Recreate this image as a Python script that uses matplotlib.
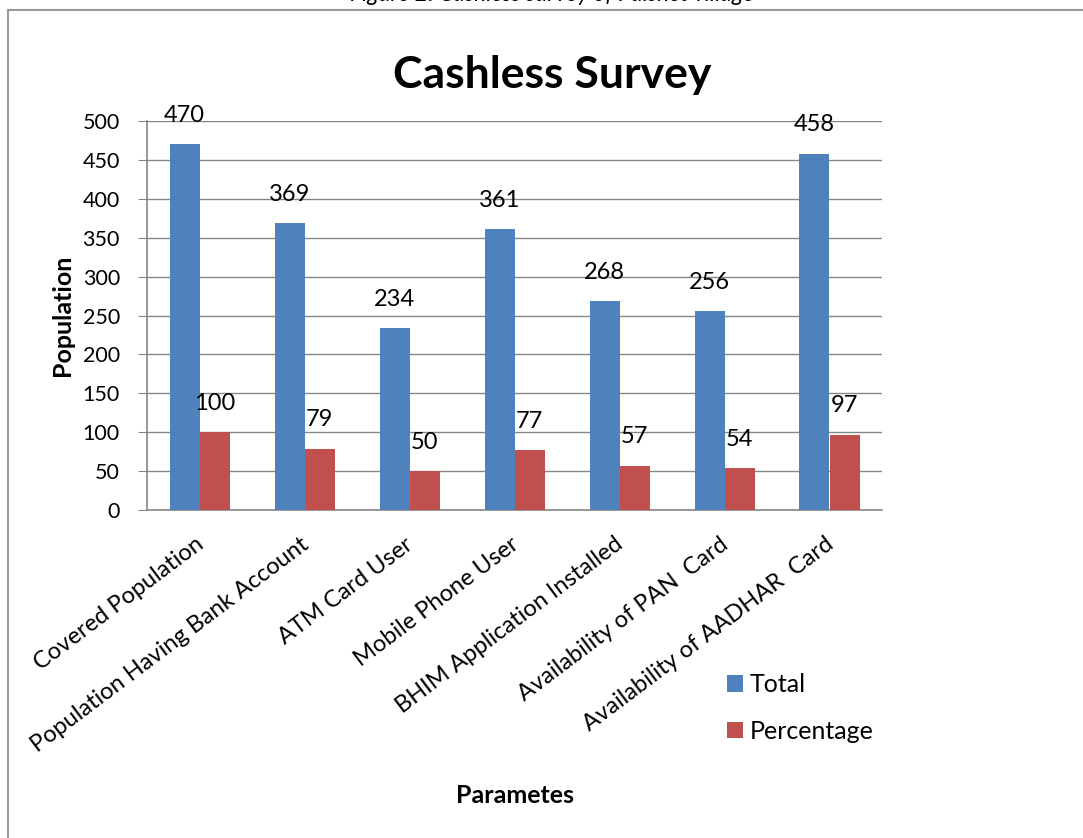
import matplotlib.pyplot as plt
import matplotlib.transforms as mtransforms
import numpy as np
from matplotlib.patches import Rectangle

categories = [
    "Covered Population",
    "Population Having Bank Account",
    "ATM Card User",
    "Mobile Phone User",
    "BHIM Application Installed",
    "Availability of PAN  Card",
    "Availability of AADHAR  Card",
]
total = [470, 369, 234, 361, 268, 256, 458]
percentage = [100, 79, 50, 77, 57, 54, 97]
yticks = [0, 50, 100, 150, 200, 250, 300, 350, 400, 450, 500]

plt.rcParams["font.family"] = ["Lato", "DejaVu Sans"]

W, H = 1083, 838
fig = plt.figure(figsize=(W / 100, H / 100), dpi=100)
ax = fig.add_axes([147 / W, 1 - 510 / H, (882 - 147) / W, (510 - 121) / H])

x = np.arange(len(categories))
w = 1 / 3.5
b1 = ax.bar(x - w / 2, total, w, color="#4F81BD", label="Total", zorder=3)
b2 = ax.bar(x + w / 2, percentage, w, color="#C0504D", label="Percentage", zorder=3)

for bars in (b1, b2):
    for r in bars:
        ax.annotate(f"{int(r.get_height())}",
                    (r.get_x() + r.get_width() / 2, r.get_height()),
                    xytext=(0, 16), textcoords="offset points",
                    ha="center", va="baseline", fontsize=17)

ax.set_xlim(-0.5, len(categories) - 0.5)
ax.set_ylim(0, 500)
ax.set_yticks(yticks)
ax.yaxis.grid(True, color="#868686", linewidth=1, zorder=0)
for s in ("top", "right"):
    ax.spines[s].set_visible(False)
for s in ("left", "bottom"):
    ax.spines[s].set_color("#868686")
    ax.spines[s].set_linewidth(1.2)
ax.tick_params(axis="y", length=6.5, color="#868686", labelsize=15.5, pad=13)
ax.tick_params(axis="x", length=0, pad=17)
ax.set_xticks(x)
ax.set_xticklabels(categories, rotation=37, ha="right", va="top",
                   rotation_mode="anchor", fontsize=17)
shift = mtransforms.ScaledTranslation(-5 / 100, 0, fig.dpi_scale_trans)
for lab in ax.get_xticklabels():
    lab.set_transform(lab.get_transform() + shift)

fig.text(62 / W, 1 - 315 / H, "Population", rotation=90, ha="center",
         va="center", fontsize=18, fontweight="bold")
fig.text(515 / W, 1 - 795 / H, "Parametes", ha="center", va="center",
         fontsize=18, fontweight="bold")
fig.text(552 / W, 1 - 88 / H, "Cashless Survey", ha="center", va="baseline",
         fontsize=32, fontweight="bold")

fig.legend(handles=[b1, b2], loc="upper left",
           bbox_to_anchor=(727 / W, 1 - 673 / H), frameon=False,
           fontsize=18, handlelength=0.65, handleheight=0.65,
           handletextpad=0.25, labelspacing=0.95, borderpad=0,
           borderaxespad=0)

fig.patches.append(Rectangle((8 / W, -0.1), 1.2, 1.1 - 10 / H,
                             transform=fig.transFigure, fill=False,
                             edgecolor="#9a9a9a", linewidth=1.5))
fig.text(552 / W, 1 - 1 / H, "Figure 2: Cashless survey of Palshet village",
         ha="center", va="baseline", fontsize=16.5, style="italic")

fig.savefig("out.png", dpi=100)
